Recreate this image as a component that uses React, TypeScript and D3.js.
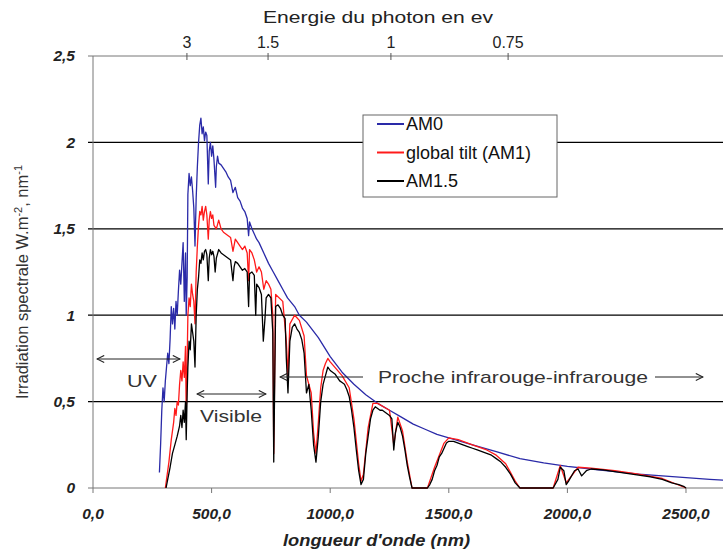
import React from 'react';
import * as d3 from 'd3';

// spectra: [wavelength nm, W.m-2.nm-1]
const am0: [number, number][] = [
  [280, 0.09], [285, 0.25], [290, 0.45], [295, 0.58], [300, 0.5], [305, 0.62], [310, 0.7], [315, 0.78],
  [320, 0.72], [325, 0.86], [330, 1.05], [335, 0.95], [340, 1.04], [345, 0.92], [350, 1.08], [355, 1.0],
  [360, 1.14], [365, 1.26], [370, 1.18], [375, 1.3], [380, 1.42], [385, 1.08], [390, 1.36], [393, 1.0],
  [397, 1.22], [400, 1.7], [405, 1.82], [410, 1.75], [415, 1.8], [420, 1.72], [425, 1.62], [430, 1.4],
  [435, 1.68], [440, 1.86], [445, 2.0], [450, 2.1], [455, 2.14], [460, 2.05], [465, 2.09], [470, 2.01],
  [475, 2.06], [480, 2.04], [486, 1.76], [490, 1.95], [495, 2.0], [500, 1.92], [505, 1.98], [510, 1.9],
  [517, 1.74], [520, 1.86], [525, 1.92], [530, 1.88], [540, 1.87], [550, 1.85], [560, 1.83], [570, 1.8],
  [580, 1.78], [590, 1.71], [600, 1.74], [610, 1.68], [620, 1.66], [630, 1.62], [640, 1.6], [650, 1.56],
  [656, 1.46], [660, 1.54], [670, 1.5], [680, 1.47], [690, 1.44], [700, 1.42], [720, 1.36], [740, 1.3],
  [760, 1.25], [780, 1.2], [800, 1.15], [820, 1.1], [850, 1.05], [870, 1.0], [900, 0.96], [950, 0.87],
  [1000, 0.76], [1050, 0.67], [1100, 0.6], [1150, 0.54], [1200, 0.49], [1250, 0.45], [1300, 0.41],
  [1350, 0.37], [1400, 0.34], [1450, 0.31], [1500, 0.29], [1600, 0.25], [1700, 0.21], [1800, 0.17],
  [1900, 0.145], [2000, 0.125], [2100, 0.11], [2200, 0.095], [2300, 0.08], [2400, 0.07], [2500, 0.06],
  [2600, 0.05], [2660, 0.045],
];

const globalTilt: [number, number][] = [
  [305, 0], [310, 0.05], [320, 0.15], [330, 0.28], [340, 0.38], [345, 0.46], [350, 0.42], [355, 0.5],
  [360, 0.48], [365, 0.6], [370, 0.68], [375, 0.62], [380, 0.73], [385, 0.64], [390, 0.82], [393, 0.42],
  [397, 0.74], [400, 1.0], [405, 1.1], [410, 1.05], [415, 1.18], [420, 1.12], [425, 1.08], [430, 0.95],
  [435, 1.25], [440, 1.4], [445, 1.52], [450, 1.6], [455, 1.58], [460, 1.63], [465, 1.55], [470, 1.6],
  [475, 1.63], [480, 1.58], [486, 1.44], [490, 1.55], [495, 1.6], [500, 1.56], [505, 1.58], [510, 1.52],
  [520, 1.5], [530, 1.55], [540, 1.5], [550, 1.48], [560, 1.47], [570, 1.46], [580, 1.45], [590, 1.37],
  [600, 1.44], [610, 1.42], [620, 1.4], [630, 1.38], [640, 1.4], [650, 1.36], [656, 1.2], [660, 1.38],
  [670, 1.36], [680, 1.32], [690, 1.25], [700, 1.28], [710, 1.25], [720, 1.15], [730, 1.2], [740, 1.18],
  [750, 1.15], [758, 1.0], [762, 0.2], [766, 0.7], [770, 1.12], [800, 1.08], [815, 0.85], [822, 0.65],
  [830, 0.95], [850, 1.0], [870, 0.97], [890, 0.88], [900, 0.65], [920, 0.55], [930, 0.32], [940, 0.2],
  [950, 0.38], [960, 0.58], [970, 0.68], [980, 0.72], [990, 0.75], [1000, 0.73], [1050, 0.65],
  [1080, 0.58], [1100, 0.4], [1120, 0.14], [1130, 0.04], [1140, 0.08], [1160, 0.35], [1180, 0.49],
  [1200, 0.49], [1250, 0.45], [1268, 0.25], [1285, 0.41], [1305, 0.33], [1325, 0.15], [1345, 0],
  [1410, 0], [1440, 0.12], [1480, 0.26], [1500, 0.29], [1540, 0.28], [1600, 0.25], [1660, 0.22],
  [1700, 0.19], [1740, 0.14], [1780, 0.04], [1800, 0], [1940, 0], [1970, 0.13], [1995, 0.03],
  [2045, 0.12], [2100, 0.115], [2200, 0.1], [2300, 0.08], [2400, 0.055], [2500, 0],
];

const am15: [number, number][] = [
  [308, 0], [315, 0.05], [325, 0.12], [335, 0.2], [345, 0.25], [355, 0.3], [365, 0.36], [370, 0.42],
  [375, 0.35], [380, 0.45], [385, 0.38], [390, 0.5], [393, 0.28], [397, 0.55], [400, 0.7], [405, 0.85],
  [410, 0.8], [415, 0.95], [420, 0.9], [425, 0.85], [430, 0.7], [435, 1.0], [440, 1.15], [445, 1.22],
  [450, 1.32], [455, 1.3], [460, 1.36], [465, 1.32], [470, 1.37], [475, 1.38], [480, 1.35], [486, 1.2],
  [490, 1.33], [495, 1.38], [500, 1.35], [505, 1.37], [510, 1.34], [515, 1.25], [520, 1.33], [530, 1.38],
  [540, 1.36], [550, 1.35], [560, 1.34], [570, 1.33], [580, 1.32], [590, 1.2], [595, 1.28], [600, 1.31],
  [610, 1.3], [620, 1.28], [630, 1.26], [640, 1.27], [650, 1.25], [656, 1.05], [660, 1.24], [670, 1.25],
  [680, 1.23], [686, 1.0], [690, 1.18], [700, 1.16], [710, 1.12], [718, 0.85], [725, 0.98], [730, 1.1],
  [740, 1.12], [750, 1.1], [758, 0.9], [762, 0.15], [766, 0.6], [770, 1.05], [780, 1.06], [790, 1.04],
  [800, 1.0], [810, 0.98], [815, 0.75], [822, 0.55], [830, 0.85], [840, 0.93], [850, 0.95], [860, 0.92],
  [870, 0.9], [880, 0.86], [890, 0.78], [900, 0.55], [910, 0.6], [920, 0.45], [930, 0.25], [940, 0.15],
  [950, 0.3], [960, 0.5], [970, 0.6], [980, 0.65], [990, 0.7], [1000, 0.68], [1010, 0.67], [1020, 0.66],
  [1030, 0.64], [1040, 0.62], [1050, 0.61], [1060, 0.6], [1070, 0.57], [1080, 0.53], [1090, 0.45],
  [1100, 0.35], [1110, 0.22], [1120, 0.1], [1130, 0.02], [1140, 0.05], [1150, 0.2], [1160, 0.3],
  [1170, 0.4], [1180, 0.45], [1190, 0.47], [1200, 0.46], [1210, 0.45], [1220, 0.45], [1230, 0.44],
  [1240, 0.43], [1250, 0.42], [1260, 0.4], [1268, 0.22], [1275, 0.32], [1285, 0.38], [1295, 0.35],
  [1305, 0.3], [1315, 0.22], [1325, 0.13], [1335, 0.06], [1345, 0], [1410, 0], [1420, 0.02], [1430, 0.05],
  [1440, 0.1], [1450, 0.13], [1460, 0.18], [1470, 0.2], [1480, 0.23], [1490, 0.26], [1500, 0.27],
  [1520, 0.27], [1540, 0.26], [1560, 0.25], [1580, 0.24], [1600, 0.23], [1620, 0.22], [1640, 0.21],
  [1660, 0.2], [1680, 0.19], [1700, 0.17], [1720, 0.15], [1740, 0.12], [1760, 0.08], [1780, 0.03],
  [1800, 0], [1940, 0], [1960, 0.05], [1970, 0.12], [1985, 0.1], [1995, 0.02], [2005, 0.04], [2030, 0.1],
  [2045, 0.11], [2060, 0.07], [2080, 0.1], [2100, 0.11], [2150, 0.105], [2200, 0.095], [2250, 0.085],
  [2300, 0.075], [2350, 0.065], [2400, 0.05], [2440, 0.03], [2470, 0.02], [2490, 0.01], [2500, 0],
];

const seriesNames = ['AM0', 'global tilt (AM1)', 'AM1.5'];
const seriesColors = ['#2a2aa8', '#ff1a1a', '#000000'];

const xTicks = [0, 500, 1000, 1500, 2000, 2500];
const yTicks = [0, 0.5, 1, 1.5, 2, 2.5];
const yTickLabels = ['0', '0,5', '1', '1,5', '2', '2,5'];
// energy ticks on the top axis, placed at the wavelength where they sit in the picture
const energyLabels = ['3', '1.5', '1', '0.75'];
const energyAtNm = [396, 738, 1256, 1750];

const W = 723;
const H = 549;
const margin = { top: 56, right: 0, bottom: 61, left: 93 };

const App = () => {
  const x = d3.scaleLinear().domain([0, 2656]).range([margin.left, W - margin.right]);
  const y = d3.scaleLinear().domain([0, 2.5]).range([H - margin.bottom, margin.top]);
  const line = d3.line<[number, number]>().x(d => x(d[0])).y(d => y(d[1]));
  const series = [am0, globalTilt, am15];
  const font = '"Liberation Sans", Arial, sans-serif';
  const x0 = x(0);
  const yBase = y(0);

  return (
    <svg width={W} height={H} style={{ position: 'absolute', left: 0, top: 0, background: '#fff' }} fontFamily={font}>
      <defs>
        <marker id="arr" viewBox="0 0 10 10" refX="9" refY="5" markerWidth="9" markerHeight="9" orient="auto-start-reverse">
          <path d="M1,1 L9,5 L1,9" fill="none" stroke="#222" strokeWidth="1.2" />
        </marker>
      </defs>

      {/* grid */}
      {yTicks.slice(1, -1).map(t => (
        <line key={t} x1={x0 - 5} x2={W} y1={y(t)} y2={y(t)} stroke="#000" strokeWidth={1.2} />
      ))}
      <line x1={x0 - 5} x2={W} y1={y(2.5)} y2={y(2.5)} stroke="#777" />
      <line x1={x0 - 5} x2={W} y1={yBase} y2={yBase} stroke="#777" />
      <line x1={x0} x2={x0} y1={y(2.5)} y2={yBase} stroke="#777" />
      {xTicks.map(t => (
        <line key={t} x1={x(t)} x2={x(t)} y1={yBase} y2={yBase + 5} stroke="#777" />
      ))}
      {energyAtNm.map(t => (
        <line key={t} x1={x(t)} x2={x(t)} y1={y(2.5) - 3} y2={y(2.5) + 4} stroke="#555" />
      ))}

      {/* tick labels */}
      {yTicks.map((t, i) => (
        <text key={t} x={x0 - 18} y={y(t)} dy="0.35em" textAnchor="end" fontSize={15.5} fontWeight="bold" fontStyle="italic" fill="#222">
          {yTickLabels[i]}
        </text>
      ))}
      {xTicks.map(t => (
        <text key={t} x={x(t)} y={yBase + 31} textAnchor="middle" fontSize={15.5} fontWeight="bold" fontStyle="italic" fill="#222">
          {t.toFixed(1).replace('.', ',')}
        </text>
      ))}
      {energyAtNm.map((t, i) => (
        <text key={t} x={x(t)} y={48} textAnchor="middle" fontSize={16} fill="#222">{energyLabels[i]}</text>
      ))}

      {/* axis titles */}
      <text x={263} y={23} textLength={230} lengthAdjust="spacingAndGlyphs" fontSize={17} fill="#222">Energie du photon en ev</text>
      <text x={283} y={546} textLength={187} lengthAdjust="spacingAndGlyphs" fontSize={17} fontWeight="bold" fontStyle="italic" fill="#222">longueur d'onde (nm)</text>
      <text transform="translate(28,282) rotate(-90)" textAnchor="middle" fontSize={16.5} fill="#333">
        Irradiation spectrale W.m<tspan dy="-6" fontSize={11}>-2</tspan><tspan dy="6">, nm</tspan><tspan dy="-6" fontSize={11}>-1</tspan>
      </text>

      {/* spectra */}
      {series.map((s, i) => (
        <path key={i} d={line(s) ?? ''} fill="none" stroke={seriesColors[i]} strokeWidth={1.3} strokeLinejoin="round" />
      ))}

      {/* annotations */}
      <line x1={97} x2={180} y1={359} y2={359} stroke="#222" markerStart="url(#arr)" markerEnd="url(#arr)" />
      <text x={127} y={387} textLength={30} lengthAdjust="spacingAndGlyphs" fontSize={17} fill="#333">UV</text>
      <line x1={197} x2={266} y1={394} y2={394} stroke="#222" markerStart="url(#arr)" markerEnd="url(#arr)" />
      <text x={200} y={422} textLength={62} lengthAdjust="spacingAndGlyphs" fontSize={17} fill="#333">Visible</text>
      <line x1={280} x2={363} y1={377} y2={377} stroke="#222" markerStart="url(#arr)" />
      <text x={378} y={383} textLength={270} lengthAdjust="spacingAndGlyphs" fontSize={17} fill="#333">Proche infrarouge-infrarouge</text>
      <line x1={655} x2={703} y1={377} y2={377} stroke="#222" markerEnd="url(#arr)" />

      {/* legend */}
      <g>
        <rect x={363} y={115} width={194} height={82} fill="#fff" stroke="#666" />
        {seriesNames.map((n, i) => (
          <g key={n}>
            <line x1={377} x2={404} y1={124 + i * 28.5} y2={124 + i * 28.5} stroke={seriesColors[i]} strokeWidth={2} />
            <text x={406} y={124 + i * 28.5} dy="0.36em" fontSize={18} fill="#111">{n}</text>
          </g>
        ))}
      </g>
    </svg>
  );
};

export default App;
